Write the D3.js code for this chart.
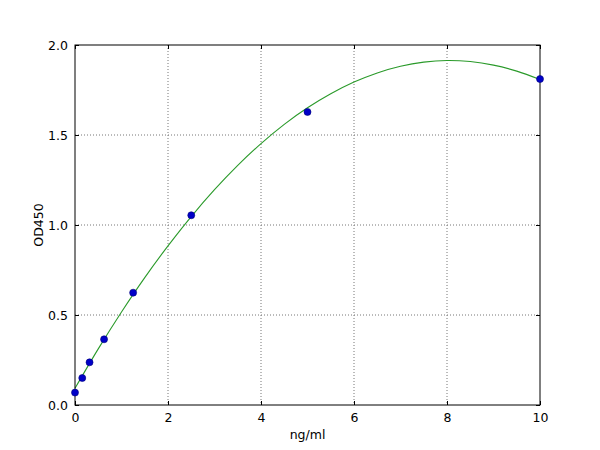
<!DOCTYPE html>
<html>
<head>
<meta charset="utf-8">
<script src="https://cdn.jsdelivr.net/npm/d3@7"></script>
<style>
  body { margin: 0; background: #fff; }
  svg text { font-family: "DejaVu Sans", sans-serif; }
  .grid line { stroke: #777; stroke-dasharray: 1,2; stroke-width: 1; }
  .tick text { font-size: 12.5px; fill: #000; }
</style>
</head>
<body>
<svg width="600" height="450"></svg>
<script>
'use strict';

// standard points
const concentrations = [0, 0.156, 0.3125, 0.625, 1.25, 2.5, 5, 10];
const odValues = [0.069, 0.15, 0.237, 0.365, 0.624, 1.054, 1.628, 1.811];

// fitted curve
const curveX = [0, 0.5, 1, 1.5, 2, 2.5, 3, 3.5, 4, 4.5, 5, 5.5, 6, 6.5, 7, 7.5, 8, 8.5, 9, 9.5, 10];
const curveY = [0.093, 0.312, 0.517, 0.708, 0.884, 1.047, 1.196, 1.331, 1.452, 1.559, 1.651,
                1.729, 1.794, 1.845, 1.882, 1.905, 1.914, 1.908, 1.888, 1.855, 1.808];

const xTicks = [0, 2, 4, 6, 8, 10];
const yTicks = [0, 0.5, 1.0, 1.5, 2.0];

const margin = { top: 45, right: 60, bottom: 45, left: 75 },
      width = 600 - margin.left - margin.right,
      height = 450 - margin.top - margin.bottom;

const svg = d3.select('svg');
const graph = svg.append('g')
   .attr('transform', `translate(${margin.left}, ${margin.top})`);

const x = d3.scaleLinear().domain([0, 10]).range([0, width]);
const y = d3.scaleLinear().domain([0, 2]).range([height, 0]);

// dotted grid
graph.append('g')
   .attr('class', 'grid')
   .selectAll('line')
   .data(xTicks.slice(1, -1))
   .join('line')
     .attr('x1', d => x(d)).attr('x2', d => x(d))
     .attr('y1', 0).attr('y2', height);

graph.append('g')
   .attr('class', 'grid')
   .selectAll('line')
   .data(yTicks.slice(1, -1))
   .join('line')
     .attr('x1', 0).attr('x2', width)
     .attr('y1', d => y(d)).attr('y2', d => y(d));

// axes, ticks pointing inwards like matplotlib classic
const fmtY = d3.format('.1f');
graph.append('g')
   .attr('transform', `translate(0, ${height})`)
   .call(d3.axisBottom(x).tickValues(xTicks).tickSize(-4).tickPadding(8).tickFormat(d3.format('d')))
   .call(g => g.select('.domain').remove());
graph.append('g')
   .call(d3.axisTop(x).tickValues(xTicks).tickSize(-4).tickFormat(''))
   .call(g => g.select('.domain').remove());
graph.append('g')
   .call(d3.axisLeft(y).tickValues(yTicks).tickSize(-4).tickPadding(7).tickFormat(fmtY))
   .call(g => g.select('.domain').remove());
graph.append('g')
   .attr('transform', `translate(${width}, 0)`)
   .call(d3.axisRight(y).tickValues(yTicks).tickSize(-4).tickFormat(''))
   .call(g => g.select('.domain').remove());

graph.selectAll('.tick line').attr('stroke', '#000');

// fitted curve
const line = d3.line()
   .x((d, i) => x(curveX[i]))
   .y(d => y(d))
   .curve(d3.curveCatmullRom);

graph.append('path')
   .datum(curveY)
   .attr('fill', 'none')
   .attr('stroke', '#2a9a2a')
   .attr('stroke-width', 1.1)
   .attr('d', line);

// frame
graph.append('rect')
   .attr('width', width).attr('height', height)
   .attr('fill', 'none').attr('stroke', '#000').attr('stroke-width', 1);

// points
graph.append('g')
   .selectAll('circle')
   .data(odValues)
   .join('circle')
     .attr('cx', (d, i) => x(concentrations[i]))
     .attr('cy', d => y(d))
     .attr('r', 3.5)
     .attr('fill', '#0000c8')
     .attr('stroke', '#00007a')
     .attr('stroke-width', 0.6);

// labels
svg.append('text')
   .attr('x', margin.left + width / 2)
   .attr('y', 439)
   .attr('text-anchor', 'middle')
   .attr('font-size', 12.5)
   .text('ng/ml');

svg.append('text')
   .attr('transform', `translate(43, ${margin.top + height / 2}) rotate(-90)`)
   .attr('text-anchor', 'middle')
   .attr('font-size', 12.5)
   .text('OD450');
</script>
</body>
</html>
